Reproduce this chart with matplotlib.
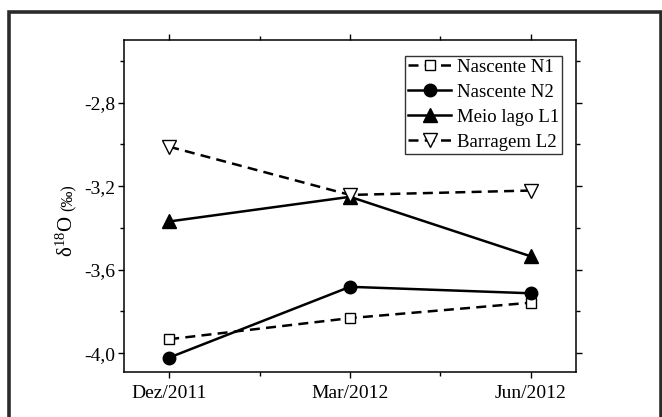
import matplotlib
matplotlib.use("Agg")
import matplotlib.pyplot as plt
from matplotlib.patches import Rectangle
from matplotlib.ticker import MultipleLocator

plt.rcParams["font.family"] = ["Liberation Serif", "DejaVu Serif"]
plt.rcParams["mathtext.fontset"] = "custom"
plt.rcParams["mathtext.rm"] = "Liberation Serif"
plt.rcParams["mathtext.it"] = "Liberation Serif:italic"

# Sampling campaigns and d18O values (per mil)
periods = ["Dez/2011", "Mar/2012", "Jun/2012"]
nascente_n1 = [-3.933, -3.832, -3.758]
nascente_n2 = [-4.021, -3.682, -3.713]
meio_lago_l1 = [-3.369, -3.251, -3.536]
barragem_l2 = [-3.011, -3.242, -3.221]

W, H, DPI = 662, 417, 100
fig = plt.figure(figsize=(W / DPI, H / DPI), dpi=DPI)

def px_box(x0, y0, x1, y1):
    return [x0 / W, 1 - y1 / H, (x1 - x0) / W, (y1 - y0) / H]

# outer frame around the panel
fig.patches.append(Rectangle((9 / W, -0.05), (652 / W), (1 - 12 / H) + 0.05,
                             transform=fig.transFigure, fill=False,
                             edgecolor="#2b2b2b", linewidth=2.6))

ax = fig.add_axes(px_box(124, 40, 576, 372))
x = list(range(len(periods)))

lw = 1.8
dash = (4, 2.5)
ax.plot(x, nascente_n1, color="black", lw=lw, dashes=dash, marker="s",
        markersize=7, markerfacecolor="white", markeredgecolor="black",
        markeredgewidth=1.0, label="Nascente N1")
ax.plot(x, nascente_n2, color="black", lw=lw, marker="o", markersize=9,
        markerfacecolor="black", label="Nascente N2")
ax.plot(x, meio_lago_l1, color="black", lw=lw, marker="^", markersize=9.5,
        markerfacecolor="black", label="Meio lago L1")
ax.plot(x, barragem_l2, color="black", lw=lw, dashes=dash, marker="v",
        markersize=9.5, markerfacecolor="white", markeredgecolor="black",
        markeredgewidth=1.0, label="Barragem L2")

ax.set_xlim(-0.25, 2.25)
ax.set_ylim(-4.09, -2.5)
ax.set_xticks(x)
ax.set_xticklabels(periods)
ax.xaxis.set_minor_locator(MultipleLocator(0.5))
ax.yaxis.set_major_locator(MultipleLocator(0.4))
ax.yaxis.set_minor_locator(MultipleLocator(0.2))
ax.yaxis.set_major_formatter(plt.FuncFormatter(lambda v, p: f"{v:.1f}".replace(".", ",")))

for s in ax.spines.values():
    s.set_linewidth(1.1)
ax.tick_params(which="both", direction="out", top=True, right=True,
               labeltop=False, labelright=False, width=1.0, labelsize=14,
               colors="black")
ax.tick_params(which="major", length=4)
ax.tick_params(which="minor", length=3)
ax.tick_params(axis="x", pad=5)
ax.tick_params(axis="y", pad=2)

leg = ax.legend(loc="upper right", bbox_to_anchor=(1 - 14 / 452, 1 - 16 / 332),
                borderaxespad=0, frameon=True, fancybox=False, fontsize=13.5,
                handlelength=2.3, handletextpad=0.3, labelspacing=0.42,
                borderpad=0.15)
leg.get_frame().set_edgecolor("black")
leg.get_frame().set_linewidth(1.0)

# y-axis label: delta-18O followed by smaller units
lx = 68 / W
t1 = fig.text(lx + 5 / W, 1 - 257 / H, r"δ$^{18}$O", rotation=90,
              rotation_mode="anchor", ha="left", va="baseline", fontsize=15)
fig.canvas.draw()
bb = t1.get_window_extent(fig.canvas.get_renderer())
fig.text(lx + 5 / W, (bb.y1 + 5) / H, "(‰)", rotation=90,
         rotation_mode="anchor", ha="left", va="baseline", fontsize=11.5)

fig.savefig("out.png", dpi=DPI, facecolor="white")
